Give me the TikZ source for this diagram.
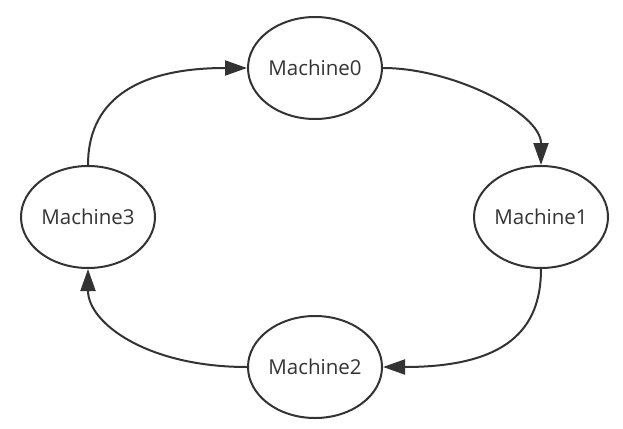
\documentclass[tikz,border=0pt]{standalone}
\usepackage{fontspec}
\setmainfont{Open Sans}
\usetikzlibrary{shapes.geometric,arrows.meta}
\definecolor{ink}{HTML}{333333}

\begin{document}
\begin{tikzpicture}
	  [x=1pt,y=-1pt,every node/.style={ellipse,draw=ink,line width=2pt,text=ink,minimum width=134pt,minimum height=102pt,inner sep=0pt,font=\fontsize{20.5}{24}\selectfont}]
	\useasboundingbox (0,0) rectangle (623,428);
	\node (m0) at (315,68)  {Machine0};
	\node (m1) at (541,217) {Machine1};
	\node (m2) at (315,367) {Machine2};
	\node (m3) at (88,217)  {Machine3};

	\foreach \from/\to/\ca/\cb in {m0.east/m1.north/{70,0}/{0,-52},m1.south/m2.east/{0,60}/{124,0},m2.west/m3.south/{-100,0}/{0,54},m3.north/m0.west/{0,-60}/{-117,0}}
	  \draw[color=ink,line width=2pt,-{Triangle[length=22pt,width=15pt]}] (\from) .. controls +(\ca) and +(\cb) .. (\to);
	\end{tikzpicture}
\end{document}
